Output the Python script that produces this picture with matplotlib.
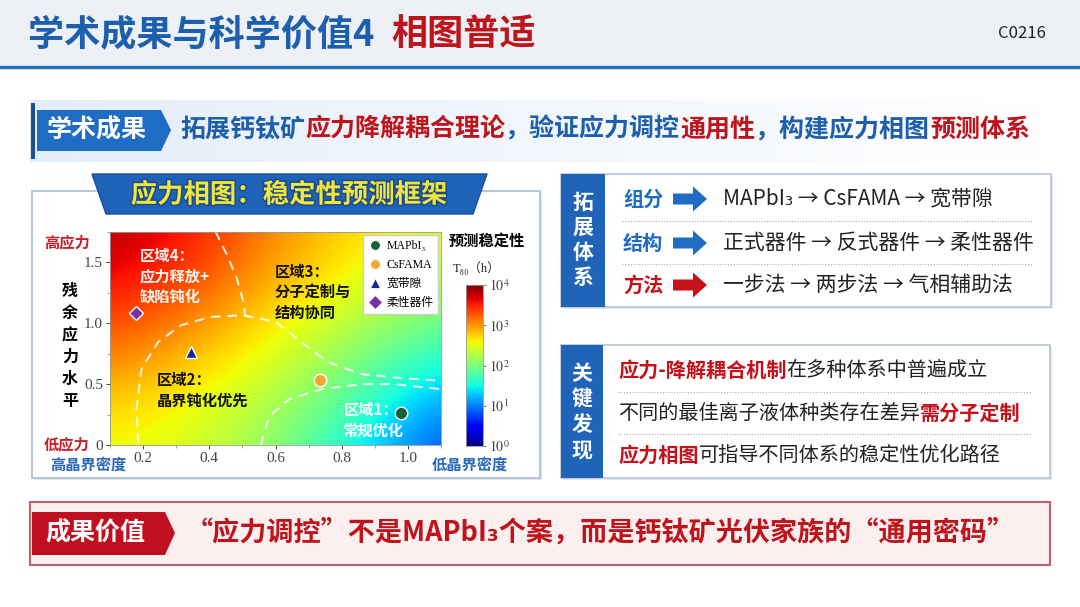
import numpy as np
import matplotlib
matplotlib.use('Agg')
import matplotlib.pyplot as plt
from matplotlib.patches import Polygon, Rectangle, FancyArrow
from matplotlib.lines import Line2D
import matplotlib.patheffects as pe

plt.rcParams['font.family'] = ['Noto Sans CJK SC', 'DejaVu Sans']
plt.rcParams['mathtext.fontset'] = 'stix'

# ---- data ----
# background stability map, log10(T80 / h), rows bottom -> top
grid_x = [0.1, 0.35, 0.6, 0.85, 1.1]
grid_y = [0.0, 0.4375, 0.875, 1.3125, 1.75]
log_t80 = [
    [2.55, 2.45, 2.05, 1.45, 0.75],
    [2.85, 2.60, 2.30, 1.80, 1.20],
    [3.25, 2.95, 2.55, 2.15, 1.75],
    [3.60, 3.30, 2.85, 2.50, 2.20],
    [3.85, 3.55, 3.05, 2.70, 2.45],
]

sample_names = ['MAPbI₃', 'CsFAMA', '宽带隙', '柔性器件']
sample_x = [0.978, 0.735, 0.344, 0.180]
sample_y = [0.265, 0.536, 0.762, 1.088]

# dashed zone borders
zone4_x = [0.418, 0.453, 0.483, 0.503, 0.508]
zone4_y = [1.757, 1.564, 1.370, 1.177, 1.066]
zone2_x = [0.185, 0.180, 0.195, 0.245, 0.314, 0.403, 0.502, 0.601, 0.691, 0.760, 0.859, 0.958, 1.100]
zone2_y = [0.017, 0.293, 0.624, 0.845, 0.983, 1.052, 1.066, 1.011, 0.818, 0.680, 0.583, 0.555, 0.528]
zone1_x = [0.557, 0.562, 0.582, 0.641, 0.740, 0.859, 0.958, 1.100]
zone1_y = [0.000, 0.072, 0.238, 0.376, 0.459, 0.500, 0.500, 0.459]

x_ticks = [0.2, 0.4, 0.6, 0.8, 1.0]
y_ticks = [0, 0.5, 1.0, 1.5]
cbar_ticks = [0, 1, 2, 3, 4]

BLUE = '#1d5fae'
RED = '#c0141c'
DARK = '#222222'

fig = plt.figure(figsize=(10.8, 6.07), dpi=100)
bg = fig.add_axes([0, 0, 1, 1])
bg.set_xlim(0, 1080)
bg.set_ylim(607, 0)
bg.axis('off')


def seq_text(x, y, parts, **kw):
    # draw coloured pieces one after another on the same line
    prev = None
    for s, c, w in parts:
        if prev is None:
            prev = bg.text(x, y, s, color=c, fontweight=w, ha='left', va='center', **kw)
        else:
            prev = bg.annotate(s, xy=(1, 0), xycoords=prev, color=c, fontweight=w,
                               ha='left', va='bottom', **kw)
    return prev


# ---- header ----
bg.add_patch(Rectangle((0, 0), 1080, 65, fc='#edf1f6', ec='none', zorder=0))
bg.plot([0, 1080], [66.5, 66.5], color='#2a6db5', lw=2.5)
seq_text(28, 35, [('学术成果与科学价值4  ', BLUE, 'bold'), ('相图普适', RED, 'bold')], fontsize=26)
bg.text(1046, 33, 'C0216', ha='right', va='center', fontsize=12, color=DARK)

# ---- academic result banner ----
grad = np.linspace(1, 0, 256).reshape(1, -1)
bg.imshow(grad, extent=(30, 1045, 162, 100), cmap=matplotlib.colors.LinearSegmentedColormap.from_list(
    'b', ['#ffffff', '#e4eefa']), aspect='auto', zorder=0)
bg.add_patch(Rectangle((31, 103), 4, 56, fc='#1a4f9a', ec='none'))
bg.add_patch(Polygon([(37, 110), (161, 110), (171, 130), (161, 151), (37, 151)], fc='#1f6cc4', ec='none'))
bg.text(97, 130, '学术成果', color='white', fontsize=18, fontweight='bold', ha='center', va='center')
seq_text(180, 130, [('拓展钙钛矿', BLUE, 'bold'), ('应力降解耦合理论', RED, 'bold'),
                    ('，验证应力调控', BLUE, 'bold'), ('通用性', RED, 'bold'),
                    ('，构建应力相图', BLUE, 'bold'), ('预测体系', RED, 'bold')], fontsize=18)

# ---- chart panel ----
bg.add_patch(Rectangle((34, 193), 508, 287, fc='#dde4ec', ec='none'))
bg.add_patch(Rectangle((32, 191), 508, 287, fc='white', ec='#a9bfd4', lw=1.2))
bg.add_patch(Polygon([(92, 174), (487, 174), (473, 214), (106, 214)], fc='#1f63b8', ec='#174f98', lw=1))
bg.text(289, 195, '应力相图：稳定性预测框架', color='#f2e63a', fontsize=19, fontweight='bold',
        ha='center', va='center', path_effects=[pe.withStroke(linewidth=2, foreground='#17478c')])

bg.text(67, 242, '高应力', color='#c8202a', fontsize=11, fontweight='bold', ha='center', va='center')
bg.text(67, 444, '低应力', color='#c8202a', fontsize=11, fontweight='bold', ha='center', va='center')
bg.text(88, 465, '高晶界密度', color='#2a68b8', fontsize=11, fontweight='bold', ha='center', va='center')
bg.text(470, 465, '低晶界密度', color='#2a68b8', fontsize=11, fontweight='bold', ha='center', va='center')
bg.text(70, 346, '残\n余\n应\n力\n水\n平', color='black', fontsize=11.5, fontweight='bold',
        ha='center', va='center', linespacing=1.45)
bg.text(487, 241, '预测稳定性', color='black', fontsize=11, fontweight='bold', ha='center', va='center')
bg.text(477, 268, 'T₈₀（h）', color=DARK, fontsize=9, ha='center', va='center',
        family=['Liberation Serif', 'DejaVu Serif', 'Noto Sans CJK SC'])

# heatmap
ax = fig.add_axes([110 / 1080, (607 - 445) / 607, 331 / 1080, 213 / 607])
hx = (grid_x[1] - grid_x[0]) / 2
hy = (grid_y[1] - grid_y[0]) / 2
im = ax.imshow(np.array(log_t80), origin='lower', cmap='jet', vmin=0, vmax=4, aspect='auto',
               interpolation='bicubic',
               extent=(grid_x[0] - hx, grid_x[-1] + hx, grid_y[0] - hy, grid_y[-1] + hy))
ax.set_xlim(grid_x[0], grid_x[-1])
ax.set_ylim(grid_y[0], grid_y[-1])

for zx, zy in [(zone4_x, zone4_y), (zone2_x, zone2_y), (zone1_x, zone1_y)]:
    ax.plot(zx, zy, color='white', lw=1.4, ls=(0, (5, 3.5)), alpha=0.9)

markers = ['o', 'o', '^', 'D']
mcolors = ['#1b5e3b', '#f0a830', '#1a2a8c', '#7b2fa0']
msizes = [9, 9, 8.5, 7.5]
handles = []
for i in range(len(sample_names)):
    ax.plot(sample_x[i], sample_y[i], marker=markers[i], color=mcolors[i], ms=msizes[i],
            mec='white', mew=1.0, ls='none', zorder=5)
    handles.append(Line2D([], [], marker=markers[i], color=mcolors[i], ms=7, mec='white',
                          mew=0.6, ls='none'))
ax.legend(handles, sample_names, loc='upper right', fancybox=False, framealpha=1,
          edgecolor='#cccccc', borderpad=0.4, handletextpad=0.4, labelspacing=0.6,
          borderaxespad=0.25, handlelength=1.2,
          prop={'family': ['Liberation Serif', 'DejaVu Serif', 'Noto Sans CJK SC'], 'size': 8.5})

ax.text(0.19, 1.62, '区域4：\n应力释放+\n缺陷钝化', color='#fff4f0', fontsize=11, fontweight='bold',
        ha='left', va='top', linespacing=1.35)
ax.text(0.597, 1.49, '区域3：\n分子定制与\n结构协同', color='#111111', fontsize=11, fontweight='bold',
        ha='left', va='top', linespacing=1.35)
ax.text(0.24, 0.60, '区域2：\n晶界钝化优先', color='#111111', fontsize=11, fontweight='bold',
        ha='left', va='top', linespacing=1.35)
ax.text(0.805, 0.35, '区域1：\n常规优化', color='white', fontsize=11, fontweight='bold',
        ha='left', va='top', linespacing=1.35)

ax.set_xticks(x_ticks)
ax.set_xticklabels(['%.1f' % v for v in x_ticks], fontfamily='Liberation Serif', fontsize=11)
ax.set_yticks(y_ticks)
ax.set_yticklabels(['0', '0.5', '1.0', '1.5'], fontfamily='Liberation Serif', fontsize=11)
ax.set_xticks(np.arange(0.1, 1.11, 0.1), minor=True)
ax.set_yticks(np.arange(0, 1.76, 0.25), minor=True)
ax.tick_params(colors='#444444', length=3, width=0.7, pad=2)
ax.tick_params(which='minor', length=2, width=0.5, colors='#777777')
for sp in ax.spines.values():
    sp.set_color('#999999')
    sp.set_linewidth(0.6)

cax = fig.add_axes([466 / 1080, (607 - 446) / 607, 17 / 1080, 161 / 607])
cb = fig.colorbar(im, cax=cax, ticks=cbar_ticks)
cb.set_ticklabels(['$10^{%d}$' % k for k in cbar_ticks])
cb.ax.tick_params(labelsize=10, length=2, width=0.5, colors='#444444', pad=2)
cb.outline.set_edgecolor('#999999')
cb.outline.set_linewidth(0.6)

# ---- right panel: systems ----
bg.add_patch(Rectangle((563, 176), 490, 133, fc='#e2e8ef', ec='none'))
bg.add_patch(Rectangle((561, 174), 490, 133, fc='white', ec='#b9c6d3', lw=1.2))
bg.add_patch(Rectangle((561, 174), 44, 133, fc='#1f64b8', ec='none'))
bg.text(583, 240, '拓\n展\n体\n系', color='white', fontsize=15, fontweight='bold',
        ha='center', va='center', linespacing=1.25)
row_y = [199, 243, 285]
row_lab = ['组分', '结构', '方法']
row_col = ['#1f6cc4', '#1f6cc4', '#c8101a']
row_txt = ['MAPbI₃ → CsFAMA → 宽带隙', '正式器件 → 反式器件 → 柔性器件', '一步法 → 两步法 → 气相辅助法']
for i in range(3):
    bg.text(623, row_y[i], row_lab[i], color=row_col[i], fontsize=14.5, fontweight='bold',
            ha='left', va='center')
    bg.add_patch(FancyArrow(673, row_y[i], 34, 0, width=11, head_width=25, head_length=14,
                            length_includes_head=True, fc=row_col[i], ec='none'))
    bg.text(723, row_y[i], row_txt[i], color=DARK, fontsize=15, ha='left', va='center')
for yy in [221, 264]:
    bg.plot([622, 1032], [yy, yy], color='#aaaaaa', lw=0.8, ls=(0, (1, 1.5)))

# ---- right panel: key findings ----
bg.add_patch(Rectangle((563, 347), 489, 133, fc='#e2e8ef', ec='none'))
bg.add_patch(Rectangle((561, 345), 489, 133, fc='white', ec='#b9c6d3', lw=1.2))
bg.add_patch(Rectangle((561, 345), 42, 133, fc='#1f64b8', ec='none'))
bg.text(582, 412, '关\n键\n发\n现', color='white', fontsize=15, fontweight='bold',
        ha='center', va='center', linespacing=1.25)
seq_text(618, 370, [('应力-降解耦合机制', '#c8101a', 'bold'), ('在多种体系中普遍成立', DARK, 'normal')], fontsize=14.5)
seq_text(618, 413, [('不同的最佳离子液体种类存在差异', DARK, 'normal'), ('需分子定制', '#c8101a', 'bold')], fontsize=14.5)
seq_text(618, 455, [('应力相图', '#c8101a', 'bold'), ('可指导不同体系的稳定性优化路径', DARK, 'normal')], fontsize=14.5)
for yy in [392, 434]:
    bg.plot([618, 1032], [yy, yy], color='#aaaaaa', lw=0.8, ls=(0, (1, 1.5)))

# ---- value banner ----
bg.add_patch(Rectangle((30, 502), 1020, 63, fc='#fcefef', ec='#b9636a', lw=1.5))
bg.add_patch(Polygon([(32, 512), (165, 512), (175, 533), (165, 555), (32, 555)], fc='#c01020', ec='none'))
bg.text(95, 533, '成果价值', color='white', fontsize=18, fontweight='bold', ha='center', va='center')
seq_text(186, 533, [('“应力调控”不是MAPbI₃个案，而是钙钛矿光伏家族的“通用密码”', '#c0141c', 'bold')],
         fontsize=19.5)

fig.savefig('out.png', dpi=100)
